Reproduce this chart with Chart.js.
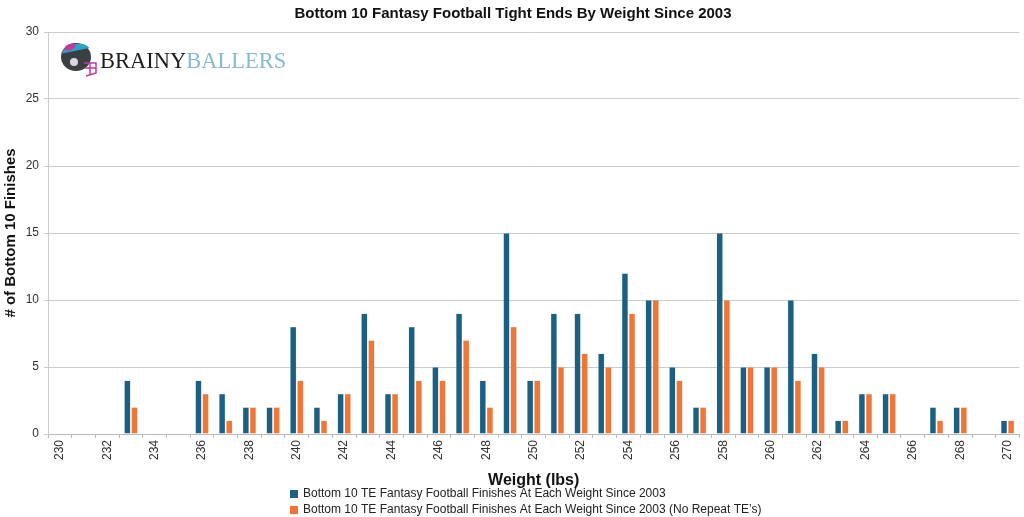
<!DOCTYPE html>
<html>
<head>
<meta charset="utf-8">
<script src="https://cdn.jsdelivr.net/npm/chart.js@4/dist/chart.umd.min.js"></script>
<style>
  html, body { margin: 0; padding: 0; background: #fff; }
  #wrap { width: 1024px; height: 517px; position: relative; }
</style>
</head>
<body>
<div id="wrap"><canvas id="chartPesos"></canvas></div>
<script>
// Datos
const pesos = [230, 231, 232, 233, 234, 235, 236, 237, 238, 239, 240, 241, 242, 243, 244, 245, 246, 247, 248, 249,
               250, 251, 252, 253, 254, 255, 256, 257, 258, 259, 260, 261, 262, 263, 264, 265, 266, 267, 268, 269, 270];
const finales = [0, 0, 0, 4, 0, 0, 4, 3, 2, 2, 8, 2, 3, 9, 3, 8, 5, 9, 4, 15,
                 4, 9, 9, 6, 12, 10, 5, 2, 15, 5, 5, 10, 6, 1, 3, 3, 0, 2, 2, 0, 1];
const finalesSinRepetir = [0, 0, 0, 2, 0, 0, 3, 1, 2, 2, 4, 1, 3, 7, 3, 4, 4, 7, 2, 8,
                           4, 5, 6, 5, 9, 10, 4, 2, 10, 5, 5, 4, 5, 1, 3, 3, 0, 1, 2, 0, 1];
const yTicks = [0, 5, 10, 15, 20, 25, 30];

const titulo = "Bottom 10 Fantasy Football Tight Ends By Weight Since 2003";
const serie1 = "Bottom 10 TE Fantasy Football Finishes At Each Weight Since 2003";
const serie2 = "Bottom 10 TE Fantasy Football Finishes At Each Weight Since 2003 (No Repeat TE\u2019s)";

const azul = "#1b6083";
const naranja = "#ee7637";

// Logo y leyenda dibujados a mano
const extras = {
    id: "extras",
    afterDraw(chart) {
        const ctx = chart.ctx;
        ctx.save();
        // casco
        ctx.fillStyle = "#3a3f44";
        ctx.beginPath();
        ctx.ellipse(76, 57, 15, 14, 0, 0, Math.PI * 2);
        ctx.fill();
        ctx.fillStyle = "#2aa3c4";
        ctx.beginPath();
        ctx.ellipse(76, 52, 14, 8, -0.2, Math.PI * 1.05, Math.PI * 1.95);
        ctx.fill();
        ctx.fillStyle = "#c0399c";
        ctx.beginPath();
        ctx.ellipse(70, 47, 6, 3, -0.4, 0, Math.PI * 2);
        ctx.fill();
        ctx.fillStyle = "#d9d9d9";
        ctx.beginPath();
        ctx.arc(74, 62, 4, 0, Math.PI * 2);
        ctx.fill();
        ctx.strokeStyle = "#c23aa0";
        ctx.lineWidth = 1.5;
        ctx.beginPath();
        ctx.moveTo(84, 63); ctx.lineTo(96, 63); ctx.lineTo(96, 73); ctx.lineTo(86, 76);
        ctx.moveTo(85, 68); ctx.lineTo(96, 68);
        ctx.moveTo(90, 63); ctx.lineTo(90, 75);
        ctx.stroke();
        // texto del logo
        ctx.font = "22.5px 'Liberation Serif', serif";
        ctx.textBaseline = "alphabetic";
        ctx.textAlign = "left";
        ctx.fillStyle = "#1e1e1e";
        ctx.fillText("BRAINY", 100, 68);
        const w = ctx.measureText("BRAINY").width;
        ctx.fillStyle = "#86bcd0";
        ctx.fillText("BALLERS", 100 + w, 68);

        // leyenda
        ctx.font = "12px 'Liberation Sans', Arial, sans-serif";
        ctx.textBaseline = "middle";
        chart.data.datasets.forEach((ds, i) => {
            const y = 494 + i * 16;
            ctx.fillStyle = ds.backgroundColor;
            ctx.fillRect(290, y - 4, 8, 8);
            ctx.fillStyle = "#222";
            ctx.fillText(ds.label, 303, y);
        });
        ctx.restore();
    }
};

const ctxPesos = document.getElementById("chartPesos").getContext("2d");
const chartPesos = new Chart(ctxPesos, {
    type: "bar",
    data: {
        labels: pesos,
        datasets: [{
            label: serie1,
            data: finales,
            backgroundColor: azul,
            borderColor: "#b9d3e0",
            borderWidth: 0.5,
            categoryPercentage: 0.6,
            barPercentage: 0.9
        }, {
            label: serie2,
            data: finalesSinRepetir,
            backgroundColor: naranja,
            borderColor: "#f6c7a9",
            borderWidth: 0.5,
            categoryPercentage: 0.6,
            barPercentage: 0.9
        }]
    },
    options: {
        responsive: true,
        maintainAspectRatio: false,
        animation: false,
        layout: { padding: { left: 2, right: 0, bottom: 27, top: 0 } },
        plugins: {
            legend: { display: false },
            tooltip: { enabled: false },
            title: {
                display: true,
                text: titulo,
                color: "#111",
                font: { family: "'Liberation Sans', Arial, sans-serif", size: 15, weight: "bold" },
                padding: { top: 5, bottom: 9 }
            }
        },
        scales: {
            x: {
                grid: { display: true, drawOnChartArea: false, drawTicks: true, tickLength: 4, offset: true, color: "#bbb" },
                border: { color: "#bbb" },
                ticks: {
                    autoSkip: false,
                    minRotation: 90,
                    maxRotation: 90,
                    color: "#333",
                    padding: 2,
                    font: { family: "'Liberation Sans', Arial, sans-serif", size: 12 },
                    callback: function (val, i) {
                        const p = pesos[i];
                        return p % 2 === 0 ? String(p) : "";
                    }
                },
                title: {
                    display: true,
                    text: "Weight (lbs)",
                    color: "#111",
                    font: { family: "'Liberation Sans', Arial, sans-serif", size: 16, weight: "bold" },
                    padding: { top: 2, bottom: 0 }
                },
                afterFit: function (scale) { scale.height = 56; }
            },
            y: {
                min: 0,
                max: 30,
                afterBuildTicks: function (scale) { scale.ticks = yTicks.map(v => ({ value: v })); },
                grid: { color: "#cccccc", tickLength: 4 },
                border: { color: "#cccccc" },
                ticks: {
                    color: "#333",
                    padding: 5,
                    font: { family: "'Liberation Sans', Arial, sans-serif", size: 12 }
                },
                title: {
                    display: true,
                    text: "# of Bottom 10 Finishes",
                    color: "#111",
                    font: { family: "'Liberation Sans', Arial, sans-serif", size: 15, weight: "bold" },
                    padding: { top: 0, bottom: 4 }
                },
                afterFit: function (scale) { scale.width = 46; }
            }
        }
    },
    plugins: [extras]
});
</script>
</body>
</html>
